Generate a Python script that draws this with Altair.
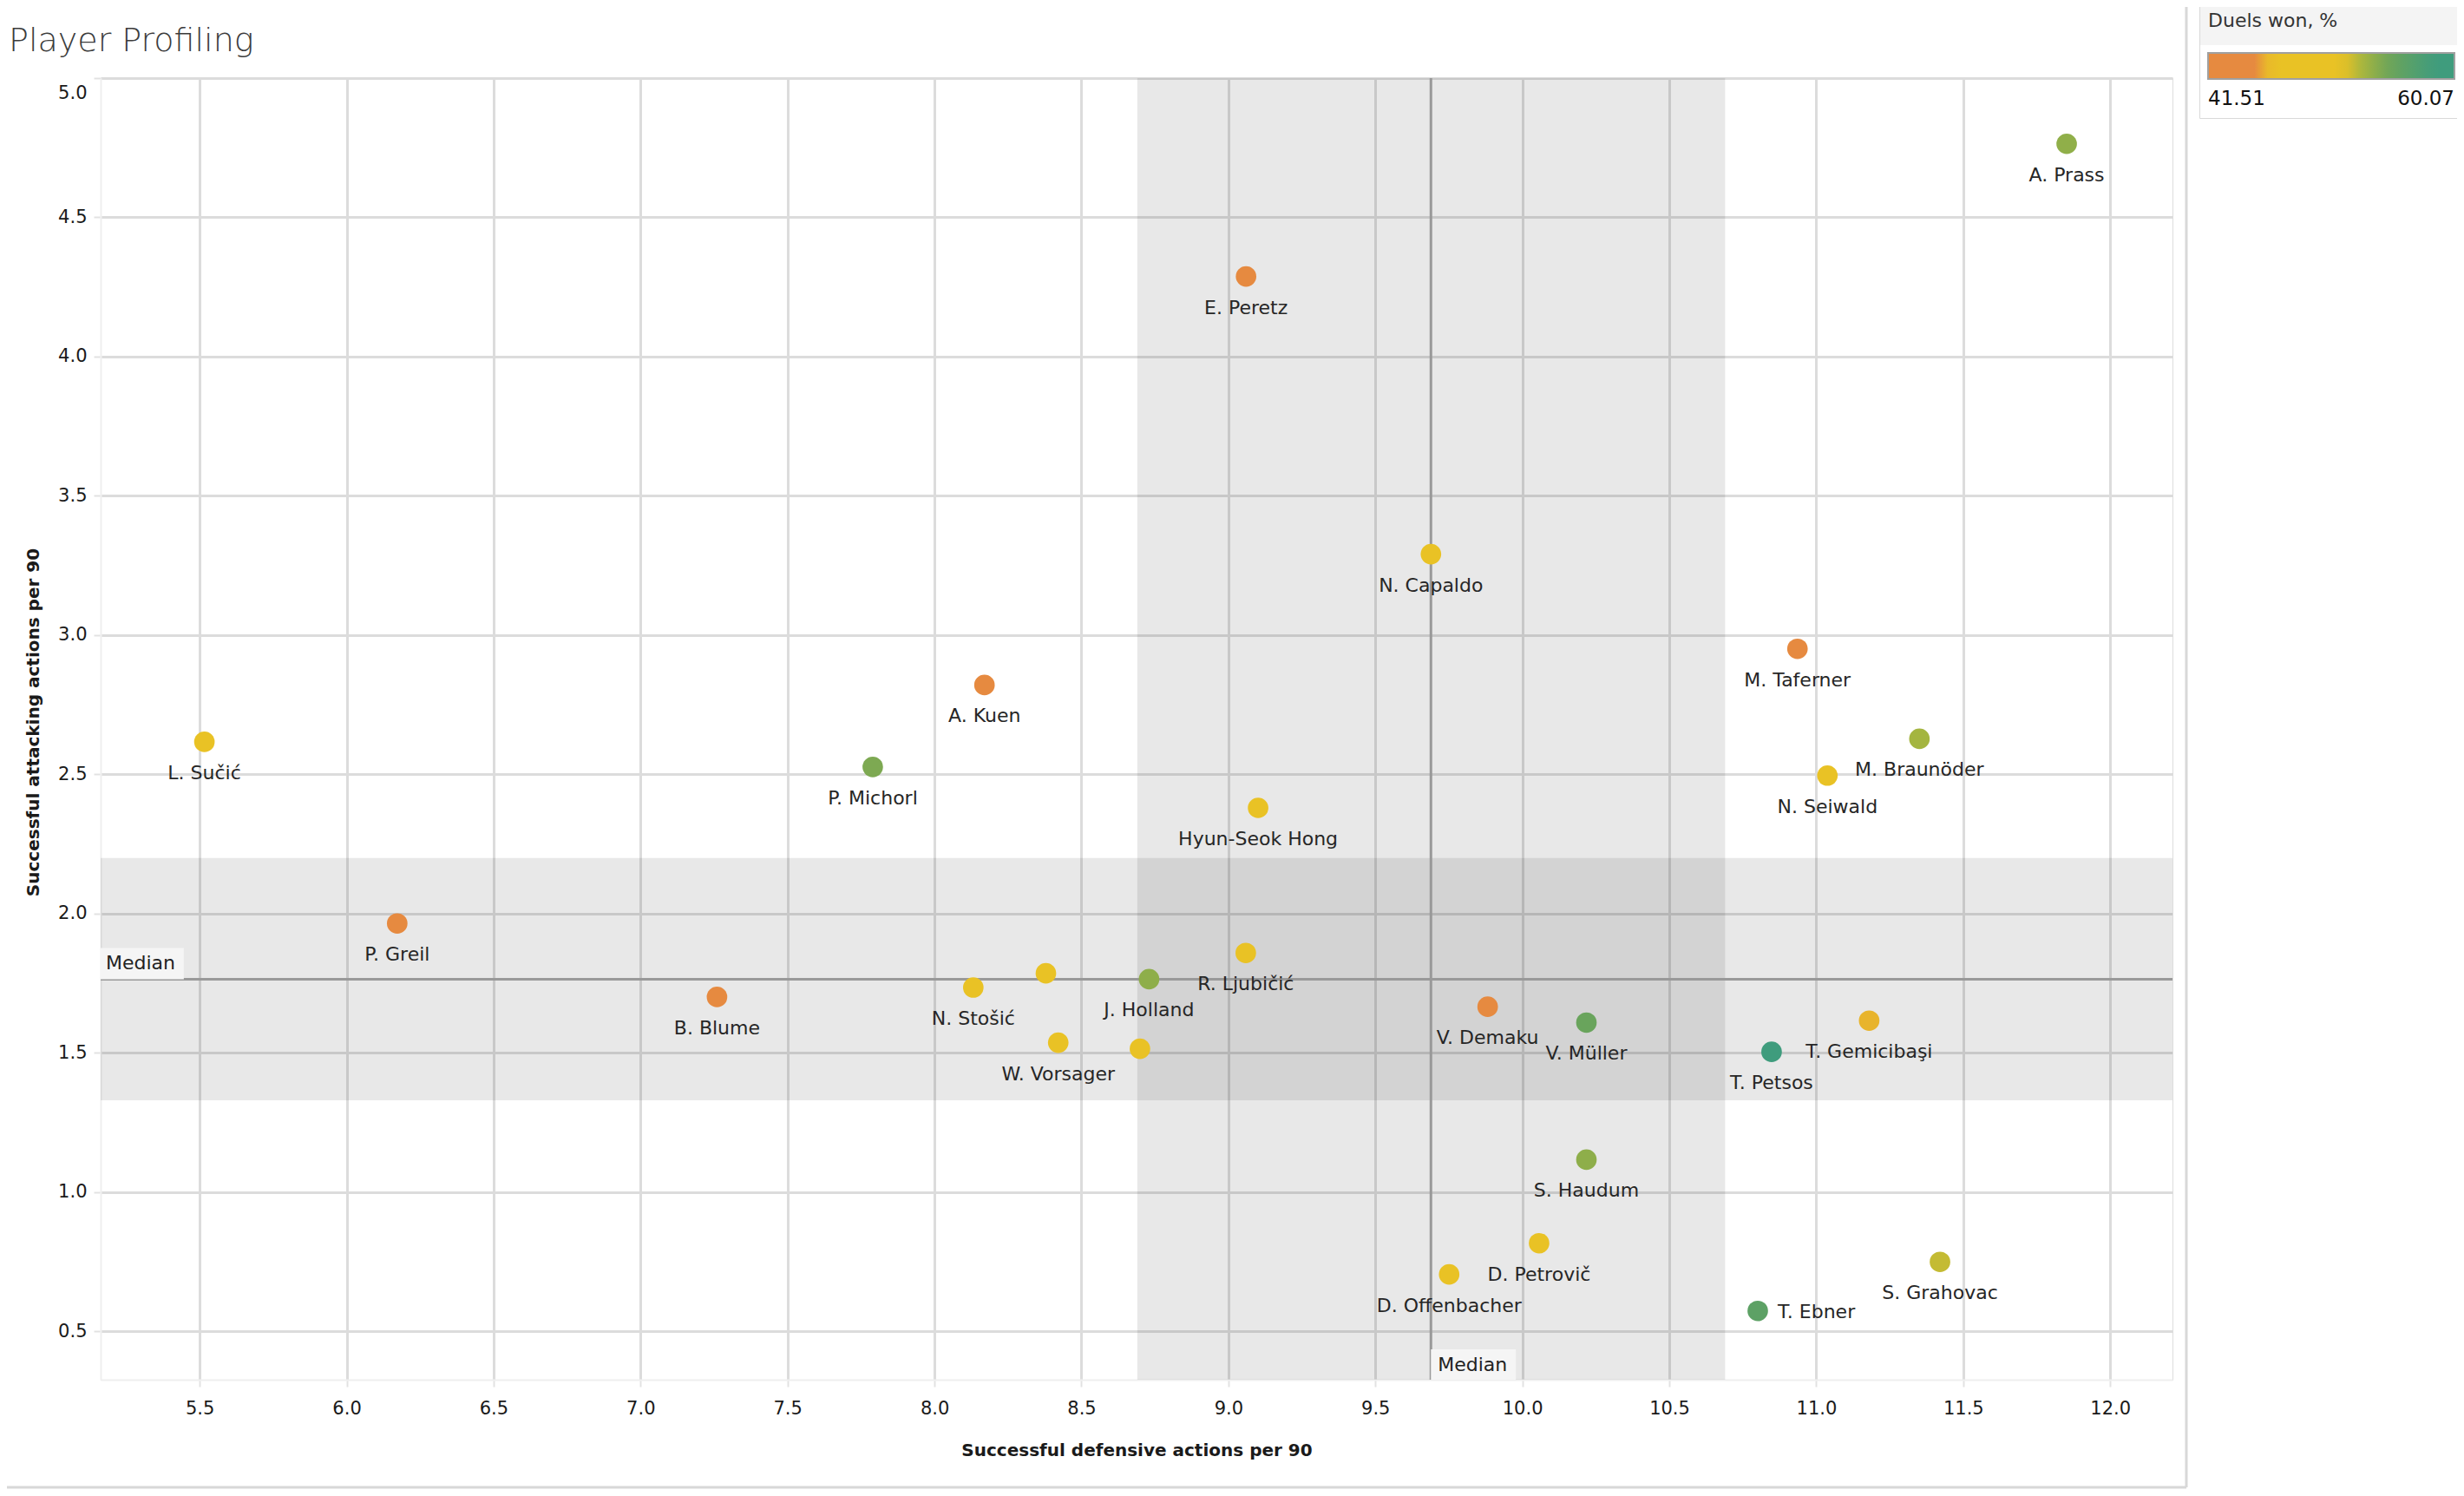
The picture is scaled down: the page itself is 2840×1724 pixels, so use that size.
import altair as alt
import numpy as np
import pandas as pd

# ---------------- data ----------------
players = ["A. Prass", "E. Peretz", "N. Capaldo", "M. Taferner", "M. Braunöder",
           "N. Seiwald", "A. Kuen", "L. Sučić", "P. Michorl", "Hyun-Seok Hong",
           "P. Greil", "B. Blume", "N. Stošić", "", "J. Holland",
           "R. Ljubičić", "W. Vorsager", "", "V. Demaku", "V. Müller",
           "T. Petsos", "T. Gemicibaşi", "S. Haudum", "D. Petrovič", "D. Offenbacher",
           "T. Ebner", "S. Grahovac"]
defensive = [11.852, 9.060, 9.689, 10.936, 11.351,
             11.038, 8.170, 5.516, 7.790, 9.101,
             6.172, 7.260, 8.132, 8.379, 8.730,
             9.059, 8.421, 8.699, 9.882, 10.218,
             10.848, 11.180, 10.218, 10.057, 9.751,
             10.801, 11.421]
attacking = [4.764, 4.288, 3.291, 2.951, 2.628,
             2.496, 2.821, 2.617, 2.527, 2.380,
             1.965, 1.701, 1.735, 1.786, 1.765,
             1.859, 1.537, 1.515, 1.666, 1.609,
             1.504, 1.616, 1.117, 0.817, 0.705,
             0.574, 0.750]
duels_won = [53.9, 43.2, 49.5, 42.8, 53.2,
             48.6, 43.9, 49.0, 54.6, 48.2,
             41.51, 44.0, 49.3, 50.1, 54.0,
             48.9, 50.4, 49.8, 43.5, 55.4,
             60.07, 45.9, 54.0, 48.4, 49.7,
             56.3, 52.5]
label_side = ["below"] * 25 + ["right", "below"]

x_ticks = [5.5, 6.0, 6.5, 7.0, 7.5, 8.0, 8.5, 9.0, 9.5, 10.0, 10.5, 11.0, 11.5, 12.0]
y_ticks = [0.5, 1.0, 1.5, 2.0, 2.5, 3.0, 3.5, 4.0, 4.5, 5.0]
x_domain = [5.163, 12.212]
y_domain = [0.327, 5.0]
x_band = [8.69, 10.69]
y_band = [1.33, 2.20]

color_stops = [41.51, 45.0, 46.2, 51.7, 53.2, 55.2, 58.6, 60.07]
color_range = ["#E68A40", "#E68A40", "#E9C225", "#E9C225", "#A4B540", "#6CA45A", "#3F9C7D", "#3F9C7D"]

FONT = "DejaVu Sans"
W, H = 2388, 1500

df = pd.DataFrame({"player": players, "def": defensive, "att": attacking,
                   "duels": duels_won, "side": label_side})
x_med = float(np.median(defensive))
y_med = float(np.median(attacking))

xscale = alt.Scale(domain=x_domain, nice=False, zero=False)
yscale = alt.Scale(domain=y_domain, nice=False, zero=False)
xaxis = alt.Axis(values=x_ticks, format=".1f", title="Successful defensive actions per 90",
                 labelFont=FONT, labelFontSize=21, labelColor="#1A1A1A", labelPadding=14,
                 tickColor="#E2E2E2", tickSize=8, tickWidth=2,
                 domainColor="#EFEFEF", domainWidth=2,
                 grid=True, gridColor="#DCDCDC", gridWidth=3,
                 titleFont=FONT, titleFontSize=20, titleFontWeight="bold", titleColor="#1A1A1A",
                 titleBaseline="alphabetic", titleY=87)
yaxis = alt.Axis(values=y_ticks, format=".1f", title="Successful attacking actions per 90",
                 labelFont=FONT, labelFontSize=21, labelColor="#1A1A1A", labelPadding=8,
                 labelFlush=True, labelFlushOffset=-6,
                 tickColor="#E2E2E2", tickSize=8, tickWidth=2,
                 domainColor="#EFEFEF", domainWidth=2,
                 grid=True, gridColor="#DCDCDC", gridWidth=3,
                 titleFont=FONT, titleFontSize=20, titleFontWeight="bold", titleColor="#1A1A1A",
                 titleAngle=270, titleBaseline="middle", titleAlign="center",
                 titleX=-78, titleY=742)


def X(f):
    return alt.X(f, type="quantitative", scale=xscale, axis=xaxis)


def Y(f):
    return alt.Y(f, type="quantitative", scale=yscale, axis=yaxis)


bands = pd.DataFrame({
    "x": [x_band[0], x_domain[0]], "x2": [x_band[1], x_domain[1]],
    "y": [y_domain[0], y_band[0]], "y2": [y_domain[1], y_band[1]],
})
band_layer = alt.Chart(bands).mark_rect(color="#000000", opacity=0.09).encode(
    x=X("x"), x2="x2", y=Y("y"), y2="y2")

vmed = alt.Chart(df).mark_rule(color="#999999", strokeWidth=3).encode(x=X("median(def)"))
hmed = alt.Chart(df).mark_rule(color="#999999", strokeWidth=3).encode(y=Y("median(att)"))

# "Median" tag boxes (sizes expressed in data units)
boxes = pd.DataFrame({
    "x": [x_domain[0], x_med], "x2": [x_domain[0] + 0.283, x_med + 0.289],
    "y": [y_med, y_domain[0]], "y2": [y_med + 0.112, y_domain[0] + 0.109],
})
box_layer = alt.Chart(boxes).mark_rect(color="#F5F5F5").encode(
    x=X("x"), x2="x2", y=Y("y"), y2="y2")
tags = pd.DataFrame({"x": [x_domain[0], x_med], "y": [y_med, y_domain[0]],
                     "t": ["Median", "Median"]})
tag1 = alt.Chart(tags.iloc[[0]]).mark_text(align="left", baseline="alphabetic", dx=6, dy=-11,
                                           font=FONT, fontSize=22, color="#222").encode(
    x=X("x"), y=Y("y"), text="t:N")
tag2 = alt.Chart(tags.iloc[[1]]).mark_text(align="left", baseline="alphabetic", dx=8, dy=-10,
                                           font=FONT, fontSize=22, color="#222").encode(
    x=X("x"), y=Y("y"), text="t:N")

points = alt.Chart(df).mark_circle(size=560, opacity=1).encode(
    x=X("def"), y=Y("att"),
    color=alt.Color("duels:Q",
                    scale=alt.Scale(domain=color_stops, range=color_range, interpolate="rgb"),
                    legend=alt.Legend(orient="none", legendX=2419, legendY=-86,
                                      direction="horizontal", title="Duels won, %",
                                      values=[41.51, 60.07], format=".2f",
                                      gradientLength=284, gradientThickness=30,
                                      gradientStrokeColor="#A0A0A0", gradientStrokeWidth=2,
                                      titleFont=FONT, titleFontSize=22, titleFontWeight="normal",
                                      titleColor="#333", titlePadding=25,
                                      labelFont=FONT, labelFontSize=23, labelColor="#111",
                                      labelOffset=12, padding=10,
                                      strokeColor="#D9D9D9")),
)

labels_below = alt.Chart(df).transform_filter(
    "datum.side == 'below' && datum.player != ''"
).mark_text(align="center", baseline="alphabetic", dy=43, font=FONT, fontSize=22,
            color="#262626").encode(x=X("def"), y=Y("att"), text="player:N")
labels_right = alt.Chart(df).transform_filter(
    "datum.side == 'right'"
).mark_text(align="left", baseline="alphabetic", dx=23, dy=8, font=FONT, fontSize=22,
            color="#262626").encode(x=X("def"), y=Y("att"), text="player:N")

# page decorations: title, legend header, separators
title = alt.Chart(pd.DataFrame({"t": ["Player Profiling"]})).mark_text(
    align="left", baseline="alphabetic", font=FONT, fontSize=38, fontWeight=300, color="#3C3C3C"
).encode(x=alt.value(-106), y=alt.value(-31), text="t:N")
header = alt.Chart(pd.DataFrame({"a": [0]})).mark_rect(color="#F4F4F4").encode(
    x=alt.value(2419), x2=alt.value(2724), y=alt.value(-90), y2=alt.value(-38))
sep_v = alt.Chart(pd.DataFrame({"a": [0]})).mark_rule(color="#D8D8D8", strokeWidth=3).encode(
    x=alt.value(2404), y=alt.value(-90), y2=alt.value(1624))
sep_h = alt.Chart(pd.DataFrame({"a": [0]})).mark_rule(color="#D8D8D8", strokeWidth=3).encode(
    x=alt.value(-116), x2=alt.value(2404), y=alt.value(1624))

chart = alt.layer(
    band_layer, vmed, hmed, box_layer, tag1, tag2, points, labels_below, labels_right,
    header, title, sep_v, sep_h
).properties(
    width=W, height=H,
    autosize=alt.AutoSizeParams(type="none"),
    padding={"left": 108, "top": 82, "right": 2824 - 108 - W, "bottom": 1708 - 82 - H},
).configure_view(stroke=None).configure(background="white")

chart.save("out.html", embed_options={"renderer": "svg", "actions": False})
